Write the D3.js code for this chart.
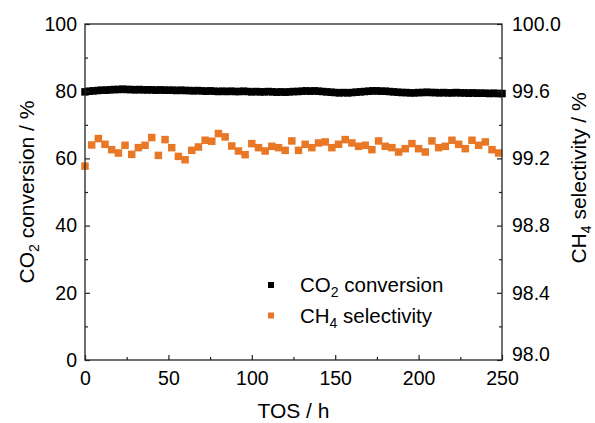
<!DOCTYPE html>
<html>
<head>
<meta charset="utf-8">
<script src="https://cdn.jsdelivr.net/npm/d3@7"></script>
<style>
  body { margin: 0; background: #fff; }
  svg { display: block; }
  text { font-family: "Liberation Sans", Arial, sans-serif; fill: #000; }
</style>
</head>
<body>
<svg id="chart" width="595" height="423"></svg>
<script>
// TOS (h) for the CO2 conversion series, one point every 2.5 h
const convTos = d3.range(0, 250.01, 2.5)
const convValues = [
  79.8, 80.0, 80.1, 80.2, 80.3, 80.3, 80.4, 80.5, 80.5,
  80.6, 80.5, 80.5, 80.4, 80.5, 80.4, 80.4, 80.4,
  80.3, 80.4, 80.3, 80.3, 80.3, 80.2, 80.3, 80.2,
  80.2, 80.1, 80.2, 80.1, 80.0, 80.1, 80.0, 79.9,
  80.0, 79.9, 80.0, 79.9, 79.9, 80.0, 79.9, 79.8,
  79.9, 79.8, 79.8, 79.9, 79.8, 79.7, 79.8, 79.7,
  79.8, 79.9, 79.9, 80.0, 80.1, 80.0, 80.1, 80.0,
  79.9, 79.8, 79.7, 79.6, 79.5, 79.6, 79.5, 79.6,
  79.7, 79.8, 79.9, 80.0, 80.1, 80.1, 80.0, 80.0,
  79.9, 79.8, 79.7, 79.6, 79.6, 79.5, 79.5, 79.6,
  79.6, 79.7, 79.6, 79.6, 79.5, 79.6, 79.5, 79.5,
  79.6, 79.5, 79.5, 79.4, 79.5, 79.4, 79.4, 79.4,
  79.3, 79.4, 79.3, 79.3
]

// TOS (h) for the CH4 selectivity series, one point every 4 h
const selTos = d3.range(0, 249, 4)
const selValues = [
  99.154, 99.280, 99.318, 99.284, 99.252, 99.232, 99.278, 99.224, 99.264, 99.278,
  99.324, 99.218, 99.312, 99.264, 99.212, 99.192, 99.248, 99.268, 99.308, 99.302,
  99.348, 99.328, 99.274, 99.244, 99.222,
  99.288, 99.264, 99.244, 99.272, 99.264, 99.248, 99.304, 99.248, 99.284, 99.264,
  99.292, 99.298, 99.264, 99.284, 99.312, 99.292, 99.272, 99.278, 99.252, 99.304,
  99.272, 99.264, 99.238, 99.258, 99.288, 99.258,
  99.238, 99.304, 99.264, 99.272, 99.308, 99.284, 99.258, 99.308, 99.278, 99.298,
  99.252, 99.232
]

const xTicks = [0, 50, 100, 150, 200, 250]
const xMinor = [25, 75, 125, 175, 225]
const yLeftTicks = [0, 20, 40, 60, 80, 100]
const yLeftMinor = [10, 30, 50, 70, 90]
const yRightTicks = [98.0, 98.4, 98.8, 99.2, 99.6, 100.0]
const yRightMinor = [98.2, 98.6, 99.0, 99.4, 99.8]

const orange = "#e97826"

const margin = { top: 24, right: 93, bottom: 63, left: 85 }
const width = 595, height = 423
const svg = d3.select("#chart")

const x = d3.scaleLinear().domain([0, 250]).range([margin.left, width - margin.right])
const yL = d3.scaleLinear().domain([0, 100]).range([height - margin.bottom, margin.top])
const yR = d3.scaleLinear().domain([98, 100]).range([height - margin.bottom, margin.top])

const tickFont = 19.5
const legendFont = 20.5
const titleFont = 21

function styleAxis(g) {
  g.select(".domain").remove()
  g.selectAll("line").attr("stroke", "#222").attr("stroke-width", 1.2)
  g.selectAll("text").style("font-size", tickFont + "px").attr("fill", "#000")
}

// markers
const sz = 7.5
svg.append("g").selectAll("rect").data(convValues).join("rect")
  .attr("x", (d, i) => x(convTos[i]) - sz / 2)
  .attr("y", d => yL(d) - sz / 2)
  .attr("width", sz).attr("height", sz)
  .attr("fill", "#000")

svg.append("g").selectAll("rect").data(selValues).join("rect")
  .attr("x", (d, i) => x(selTos[i]) - sz / 2)
  .attr("y", d => yR(d) - sz / 2)
  .attr("width", sz).attr("height", sz)
  .attr("fill", orange)

// axes
const bottom = height - margin.bottom
svg.append("g").attr("transform", `translate(0,${bottom})`)
  .call(d3.axisBottom(x).tickValues(xTicks).tickSize(-5).tickPadding(11).tickFormat(d3.format("d")))
  .call(styleAxis)
svg.append("g").attr("transform", `translate(0,${bottom})`)
  .call(d3.axisBottom(x).tickValues(xMinor).tickSize(-3).tickFormat(""))
  .call(styleAxis)

svg.append("g").attr("transform", `translate(${margin.left},0)`)
  .call(d3.axisLeft(yL).tickValues(yLeftTicks).tickSize(-5).tickPadding(8).tickFormat(d3.format("d")))
  .call(styleAxis)
svg.append("g").attr("transform", `translate(${margin.left},0)`)
  .call(d3.axisLeft(yL).tickValues(yLeftMinor).tickSize(-3).tickFormat(""))
  .call(styleAxis)

const right = width - margin.right
const gR = svg.append("g").attr("transform", `translate(${right},0)`)
  .call(d3.axisRight(yR).tickValues(yRightTicks).tickSize(-5).tickPadding(10).tickFormat(d3.format(".1f")))
  .call(styleAxis)
// bottom right label sits a little above the axis
gR.selectAll(".tick text").filter(d => d === 98.0).attr("dy", "0.02em")
svg.append("g").attr("transform", `translate(${right},0)`)
  .call(d3.axisRight(yR).tickValues(yRightMinor).tickSize(-3).tickFormat(""))
  .call(styleAxis)

// frame
svg.append("rect")
  .attr("x", margin.left).attr("y", margin.top)
  .attr("width", right - margin.left).attr("height", bottom - margin.top)
  .attr("fill", "none").attr("stroke", "#222").attr("stroke-width", 1.3)

// axis titles
svg.append("text")
  .attr("x", (margin.left + right) / 2).attr("y", 418)
  .attr("text-anchor", "middle").style("font-size", titleFont + "px")
  .text("TOS / h")

const tl = svg.append("text")
  .attr("transform", `translate(34,${(margin.top + bottom) / 2}) rotate(-90)`)
  .attr("text-anchor", "middle").style("font-size", titleFont + "px")
tl.append("tspan").text("CO")
tl.append("tspan").attr("dy", 5).style("font-size", "14px").text("2")
tl.append("tspan").attr("dy", -5).text(" conversion / %")

const tr = svg.append("text")
  .attr("transform", `translate(586,178) rotate(-90)`)
  .attr("text-anchor", "middle").style("font-size", titleFont + "px")
tr.append("tspan").text("CH")
tr.append("tspan").attr("dy", 5).style("font-size", "14px").text("4")
tr.append("tspan").attr("dy", -5).text(" selectivity / %")

// legend
const legend = [
  { color: "#000", main: "CO", sub: "2", rest: " conversion" },
  { color: orange, main: "CH", sub: "4", rest: " selectivity" }
]
const lg = svg.append("g")
legend.forEach((d, i) => {
  const cy = 285 + i * 30.5
  lg.append("rect").attr("x", 268).attr("y", cy - 3).attr("width", 6).attr("height", 6).attr("fill", d.color)
  const t = lg.append("text").attr("x", 300).attr("y", cy + 7).style("font-size", legendFont + "px")
  t.append("tspan").text(d.main)
  t.append("tspan").attr("dy", 5).style("font-size", "14px").text(d.sub)
  t.append("tspan").attr("dy", -5).text(d.rest)
})
</script>
</body>
</html>
